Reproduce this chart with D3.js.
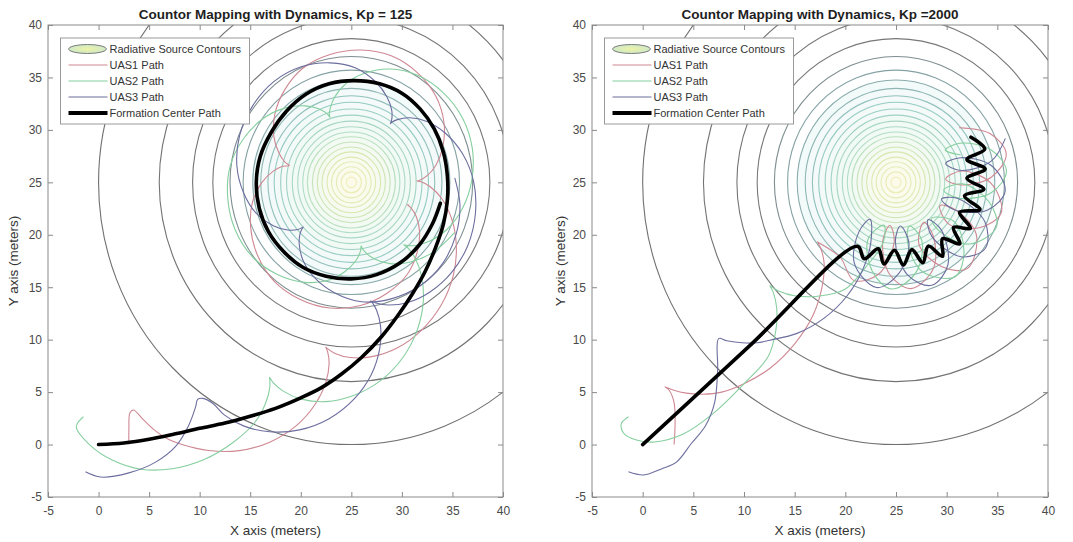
<!DOCTYPE html>
<html><head><meta charset="utf-8">
<script src="https://cdn.jsdelivr.net/npm/d3@7"></script>
<style>
body{margin:0;background:#fff;}
svg{display:block;font-family:"Liberation Sans",Arial,Helvetica,sans-serif;}
</style></head><body>
<svg id="chart" width="1073" height="542"></svg>
<script>
// ---------------- data ----------------
const axisDomain = [-5, 40];
const xTickValues = [-5, 0, 5, 10, 15, 20, 25, 30, 35, 40];
const yTickValues = [-5, 0, 5, 10, 15, 20, 25, 30, 35, 40];
const panelTitles = ["Countor Mapping with Dynamics, Kp = 125", "Countor Mapping with Dynamics, Kp =2000"];
const xAxisLabel = "X axis (meters)";
const yAxisLabel = "Y axis (meters)";
const legendLabels = ["Radiative Source Contours", "UAS1 Path", "UAS2 Path", "UAS3 Path", "Formation Center Path"];
const sourceCenter = [25, 25];
const contourRadii = [25, 19, 15.7, 13.7, 12.0, 10.7, 9.75, 8.96, 8.25, 7.63, 6.99, 6.41, 5.84, 5.3, 4.8, 4.35, 3.85, 3.37, 2.9, 2.4, 1.96, 1.48, 1.0, 0.5];

const centerPathKp125 = [[0,0],[2.5,0.15],[5,0.5],[7.5,1.0],[10,1.55],[12.5,2.05],[15,2.7],[17.5,3.45],[20,4.45],[22,5.4],[24,6.7],[26,8.3],[28,10.3],[29.6,12.3],[31,14.3],[32.3,16.5],[33.3,18.7],[34.1,21],[34.5,23.3],[34.5,25.6],[34.1,27.9],[33.2,30.1],[31.8,32],[30,33.5],[27.8,34.4],[25.3,34.7],[22.8,34.4],[20.5,33.4],[18.6,31.8],[17.1,29.8],[16,27.5],[15.6,25],[15.9,22.5],[16.8,20.3],[18.3,18.4],[20.2,16.9],[22.5,16.05],[25,15.8],[27.5,16.2],[29.8,17.3],[31.7,19],[33,21],[33.8,23]];
const uas1PathKp125 = [[3,0],[3.0,1.5],[3.1,3.0],[3.45,3.3],[4.4,2.4],[5.5,1.4],[6.9,0.5],[8.25,0.0],[10.89,-0.57],[13.91,-0.58],[16.93,0.23],[19.53,1.78],[21.41,3.82],[22.47,5.9],[22.8,7.67],[22.66,8.83],[22.48,9.29],[22.61,9.17],[23.39,8.69],[24.9,8.3],[27.04,8.38],[29.52,9.2],[31.93,10.89],[33.89,13.3],[35.09,16.15],[35.38,19.05],[34.9,21.59],[33.92,23.48],[32.77,24.6],[31.9,25.05],[31.5,25.12],[31.71,25.18],[32.47,25.61],[33.38,26.66],[34.05,28.38],[34.16,30.7],[33.36,33.2],[31.58,35.42],[29,37.04],[25.94,37.62],[22.89,37.19],[20.23,35.9],[18.39,33.79],[17.44,31.51],[17.33,29.4],[17.84,27.79],[18.46,26.9],[18.87,26.6],[18.21,26.53],[17.28,26.07],[16.12,24.95],[15.22,23.1],[15.04,20.74],[15.7,18.09],[17.33,15.61],[19.85,13.88],[22.84,13.02],[25.91,13.26],[28.57,14.45],[30.52,16.21],[31.53,18.39],[31.75,20.31],[31.42,21.75],[30.85,22.61],[30.54,22.86],[30.73,22.82]];
const uas2PathKp125 = [[-1.5,2.65],[-2.2,1.7],[-0.9,0.0],[1.4,-1.5],[4.2,-2.35],[7.3,-2.3],[10.5,-1.4],[13.3,0.2],[15.39,2.03],[16.51,3.92],[16.93,5.43],[16.93,6.28],[16.91,6.42],[17.27,5.9],[18.3,5.07],[20.06,4.33],[22.48,4.09],[25.21,4.67],[27.89,6.09],[30.1,8.3],[31.54,10.98],[32.12,13.7],[31.93,16.09],[31.29,17.8],[30.59,18.75],[30.18,19.05],[30.4,18.99],[31.32,18.98],[32.77,19.4],[34.5,20.55],[36,22.52],[36.91,25.18],[36.97,28.21],[35.98,31.16],[34.05,33.58],[31.56,35.2],[28.86,35.8],[26.38,35.42],[24.5,34.44],[23.34,33.12],[22.89,31.99],[22.83,31.4],[22.89,31.19],[22.64,31.51],[21.83,32],[20.44,32.29],[18.46,32.1],[16.28,31.08],[14.35,29.18],[13.01,26.53],[12.78,23.47],[13.52,20.45],[15.22,17.9],[17.64,16.24],[20.2,15.49],[22.53,15.61],[24.35,16.48],[25.44,17.52],[25.91,18.46],[25.97,18.95],[26.02,18.81],[26.33,18.39],[27.25,17.71],[28.82,17.25],[30.85,17.41],[33.14,18.36],[35.23,20.22]];
const uas3PathKp125 = [[-1.3,-2.6],[0.2,-3.1],[3.0,-2.7],[5.6,-1.7],[7.6,-0.2],[8.9,1.8],[9.6,3.6],[9.8,4.3],[10.3,4.4],[11.31,3.92],[12.43,2.83],[14.33,1.78],[16.91,1.22],[19.87,1.4],[22.8,2.47],[25.26,4.33],[26.98,6.69],[27.81,9.17],[27.89,11.29],[27.5,12.8],[27.04,13.58],[26.92,13.7],[27.43,13.49],[28.69,13.3],[30.59,13.55],[32.78,14.55],[34.9,16.39],[36.52,18.98],[37.27,22],[37.1,25.05],[36,27.72],[34.31,29.68],[32.47,30.81],[30.78,31.16],[29.55,30.98],[28.96,30.7],[28.86,30.6],[28.98,30.92],[29,31.84],[28.54,33.12],[27.39,34.59],[25.43,35.9],[22.89,36.39],[20.04,36.01],[17.33,34.6],[15.24,32.29],[13.96,29.5],[13.68,26.58],[14.35,23.98],[15.61,22.03],[17.28,20.87],[18.72,20.45],[19.72,20.5],[20.24,20.74],[20.2,20.69],[19.93,20.11],[19.85,19.08],[20.24,17.52],[21.41,15.86],[23.37,14.45],[26.02,13.61],[28.93,13.89],[31.75,15.11],[34.02,17.25],[35.35,20.01],[35.74,22.86],[35.23,25.42]];

const centerPathKp2000 = [[0,0],[10.6,9.45],[21.2,18.9],[21.87,17.71],[23.25,18.66],[23.81,17.22],[24.85,18.52],[25.73,17.13],[26.56,18.58],[27.65,17.34],[28.19,18.92],[29.59,17.95],[29.59,19.62],[31.3,19.14],[30.68,20.68],[32.34,20.62],[31.28,22.15],[33.28,22.4],[31.76,23.71],[33.67,24.35],[32.0,25.38],[33.8,26.28],[32.0,27.19],[33.76,28.16],[32.4,29.3]];
const uas1PathKp2000 = [[3.1,0],[3.2,2.0],[3.1,4.0],[2.6,5.2],[2.2,5.5],[3.0,5.2],[4.3,4.9],[5.9,4.8],[7.8,5.0],[10.0,5.8],[12.6,7.3],[15.0,9.6],[16.8,12.3],[17.7,15.0],[17.91,17.25],[17.58,18.69],[17.25,19.34],[17.32,19.28],[18.09,18.83],[19.53,17.81],[20.84,15.65],[23.3,16.26],[24.82,19.32],[24.4,20.88],[23.7,19.44],[24.35,16.26],[26.47,14.87],[28.69,16.78],[28.68,19.86],[27.76,21.18],[27.27,19.07],[29.53,16.95],[32.07,16.8],[32.92,20.03],[30.89,22.37],[29.34,22.78],[30.24,20.99],[33.31,20.69],[35.4,22.13],[34.36,24.92],[31.49,26.08],[29.9,25.31],[31.4,24.75],[34.4,25.49],[35.88,27.71],[34.27,29.65],[31.22,30.21]];
const uas2PathKp2000 = [[-1.4,2.65],[-2.1,2.0],[-1.9,1.1],[-0.7,0.45],[1.2,0.25],[4.0,1.0],[7.0,3.0],[10.0,5.8],[12.37,8.37],[13.15,10.92],[13.22,13.06],[12.89,14.51],[12.56,15.15],[12.63,15.1],[13.41,14.65],[14.98,14.19],[17.25,14.14],[19.92,14.78],[21.93,16.82],[23.75,19.31],[23.81,20.91],[22.24,19.58],[22.66,16.53],[24.54,14.83],[26.96,16.39],[27.55,19.44],[26.33,20.83],[26.15,19.23],[27.59,16.5],[30.82,16.0],[31.71,18.37],[30.7,21.29],[28.49,21.57],[29.39,20.25],[32.27,19.12],[34.91,20.73],[34.17,23.15],[31.59,24.85],[29.72,24.26],[31.13,23.5],[34.4,24.01],[35.9,26.05],[34.4,28.09],[31.31,28.73],[29.86,28.07],[31.38,27.61]];
const uas3PathKp2000 = [[-1.4,-2.6],[0.1,-2.9],[1.9,-2.3],[3.3,-1.7],[4.8,0.1],[6.2,1.8],[7.1,4.0],[7.4,7.1],[7.5,10.1],[8.3,9.9],[9.8,9.7],[11.3,9.7],[12.56,9.95],[15.23,10.6],[17.91,12.05],[20.18,14.19],[21.75,16.74],[22.52,19.28],[22.44,21.47],[21.35,20.3],[20.9,17.25],[23.08,14.97],[25.24,16.27],[26.28,19.18],[25.43,20.83],[24.94,19.31],[26.16,16.15],[28.51,15.18],[30.12,17.13],[29.45,20.49],[28.16,21.44],[28.52,19.87],[31.42,17.91],[33.82,18.71],[33.77,21.24],[31.1,23.45],[29.5,23.41],[30.73,22.39],[34.0,22.34],[35.77,24.16],[34.4,26.61],[31.4,27.35],[29.9,26.79],[31.47,26.13],[34.43,27.05],[35.79,29.19]];

// ---------------- drawing ----------------
const svg = d3.select("#chart");
const FONT_TICK = 12, FONT_LABEL = 13.5, FONT_TITLE = 13.5, FONT_LEGEND = 11;
const uasColors = ["#cf8893", "#86cf9f", "#6c6e9e"];
const axisColor = "#8a8a8a", textColor = "#4a4a4a";

const contourColor = d3.scaleLinear()
  .domain([0, 3, 5, 9, 14, 18, 23])
  .range(["#707070", "#767879", "#86a2a4", "#96cbc4", "#b1ddc6", "#d6e8ae", "#f1edbb"])
  .interpolate(d3.interpolateRgb);
const contourFill = d3.scaleLinear()
  .domain([6, 14, 23])
  .range(["#f3fafa", "#f2faf4", "#fcfbea"])
  .interpolate(d3.interpolateRgb);

const panels = [
  {box: {x0: 48, x1: 503, y0: 25, y1: 497}, title: panelTitles[0], center: centerPathKp125, uas: [uas1PathKp125, uas2PathKp125, uas3PathKp125], ylx: 18},
  {box: {x0: 592, x1: 1048, y0: 25, y1: 497}, title: panelTitles[1], center: centerPathKp2000, uas: [uas1PathKp2000, uas2PathKp2000, uas3PathKp2000], ylx: 565}
];

const defs = svg.append("defs");
const grad = defs.append("radialGradient").attr("id", "legGrad");
grad.append("stop").attr("offset", "0%").attr("stop-color", "#eef3a6");
grad.append("stop").attr("offset", "100%").attr("stop-color", "#cfe9c9");

const tickFmt = d => String(d);

panels.forEach((p, pi) => {
  const b = p.box;
  const x = d3.scaleLinear().domain(axisDomain).range([b.x0, b.x1]);
  const y = d3.scaleLinear().domain(axisDomain).range([b.y1, b.y0]);
  const g = svg.append("g");
  const clipId = "clip" + pi;
  defs.append("clipPath").attr("id", clipId).append("rect")
    .attr("x", b.x0).attr("y", b.y0).attr("width", b.x1 - b.x0).attr("height", b.y1 - b.y0);

  g.append("rect").attr("x", b.x0).attr("y", b.y0).attr("width", b.x1 - b.x0).attr("height", b.y1 - b.y0).attr("fill", "#fff");

  const plot = g.append("g").attr("clip-path", `url(#${clipId})`);

  // contours
  plot.append("g").selectAll("ellipse").data(contourRadii).join("ellipse")
    .attr("cx", x(sourceCenter[0])).attr("cy", y(sourceCenter[1]))
    .attr("rx", r => x(sourceCenter[0] + r) - x(sourceCenter[0]))
    .attr("ry", r => y(sourceCenter[1]) - y(sourceCenter[1] + r))
    .attr("fill", (r, i) => i >= 6 ? contourFill(i) : "none")
    .attr("stroke", (r, i) => contourColor(i))
    .attr("stroke-width", 1.1);

  const line = d3.line().x(d => x(d[0])).y(d => y(d[1])).curve(d3.curveCatmullRom.alpha(0.5));

  // UAS paths
  plot.append("g").selectAll("path").data(p.uas).join("path")
    .attr("d", d => line(d))
    .attr("fill", "none")
    .attr("stroke", (d, i) => uasColors[i])
    .attr("stroke-width", 1.1)
    .attr("stroke-linejoin", "round");

  // formation center path
  plot.append("path").datum(p.center).attr("d", line)
    .attr("fill", "none").attr("stroke", "#000").attr("stroke-width", 3.6)
    .attr("stroke-linejoin", "round").attr("stroke-linecap", "round");

  // axes (box with inward ticks)
  const styleAxis = sel => {
    sel.select(".domain").remove();
    sel.selectAll(".tick line").attr("stroke", axisColor);
    sel.selectAll(".tick text").attr("fill", textColor).style("font-size", FONT_TICK + "px")
      .style("font-family", '"Liberation Sans",Arial,sans-serif');
  };
  g.append("g").attr("transform", `translate(0,${b.y1})`)
    .call(d3.axisBottom(x).tickValues(xTickValues).tickFormat(tickFmt).tickSizeInner(-5).tickSizeOuter(0).tickPadding(9))
    .call(styleAxis);
  g.append("g").attr("transform", `translate(0,${b.y0})`)
    .call(d3.axisTop(x).tickValues(xTickValues).tickSizeInner(-5).tickSizeOuter(0).tickFormat(""))
    .call(styleAxis);
  g.append("g").attr("transform", `translate(${b.x0},0)`)
    .call(d3.axisLeft(y).tickValues(yTickValues).tickFormat(tickFmt).tickSizeInner(-5).tickSizeOuter(0).tickPadding(6))
    .call(styleAxis);
  g.append("g").attr("transform", `translate(${b.x1},0)`)
    .call(d3.axisRight(y).tickValues(yTickValues).tickSizeInner(-5).tickSizeOuter(0).tickFormat(""))
    .call(styleAxis);
  g.append("rect").attr("x", b.x0).attr("y", b.y0).attr("width", b.x1 - b.x0).attr("height", b.y1 - b.y0)
    .attr("fill", "none").attr("stroke", axisColor).attr("stroke-width", 1);

  // title and labels
  g.append("text").attr("x", (b.x0 + b.x1) / 2).attr("y", 19).attr("text-anchor", "middle")
    .attr("font-weight", "bold").attr("font-size", FONT_TITLE).attr("fill", "#1e1e1e").text(p.title);
  g.append("text").attr("x", (b.x0 + b.x1) / 2).attr("y", 535).attr("text-anchor", "middle")
    .attr("font-size", FONT_LABEL).attr("fill", "#333").text(xAxisLabel);
  g.append("text").attr("transform", `translate(${p.ylx},${(b.y0 + b.y1) / 2}) rotate(-90)`)
    .attr("text-anchor", "middle").attr("font-size", FONT_LABEL).attr("fill", "#333").text(yAxisLabel);

  // legend
  const lx = b.x0 + 12.5, ly = b.y0 + 13, lw = 189, lh = 86, rowH = 16;
  const lg = g.append("g");
  lg.append("rect").attr("x", lx).attr("y", ly).attr("width", lw).attr("height", lh)
    .attr("fill", "#fff").attr("stroke", "#9a9a9a").attr("stroke-width", 1);
  const rows = lg.selectAll("g.row").data(legendLabels).join("g").attr("class", "row")
    .attr("transform", (d, i) => `translate(${lx},${ly + 11 + i * rowH})`);
  rows.append("text").attr("x", 49).attr("y", 4).attr("font-size", FONT_LEGEND).attr("fill", "#333").text(d => d);
  rows.each(function (d, i) {
    const r = d3.select(this);
    if (i === 0) {
      r.append("ellipse").attr("cx", 27).attr("cy", 0).attr("rx", 19).attr("ry", 4.5)
        .attr("fill", "url(#legGrad)").attr("stroke", "#7c7c7c").attr("stroke-width", 1);
    } else if (i < 4) {
      r.append("line").attr("x1", 8).attr("x2", 47).attr("y1", 0).attr("y2", 0)
        .attr("stroke", uasColors[i - 1]).attr("stroke-width", 1.2);
    } else {
      r.append("line").attr("x1", 8).attr("x2", 47).attr("y1", 0).attr("y2", 0)
        .attr("stroke", "#000").attr("stroke-width", 3.8);
    }
  });
});
</script>
</body></html>
